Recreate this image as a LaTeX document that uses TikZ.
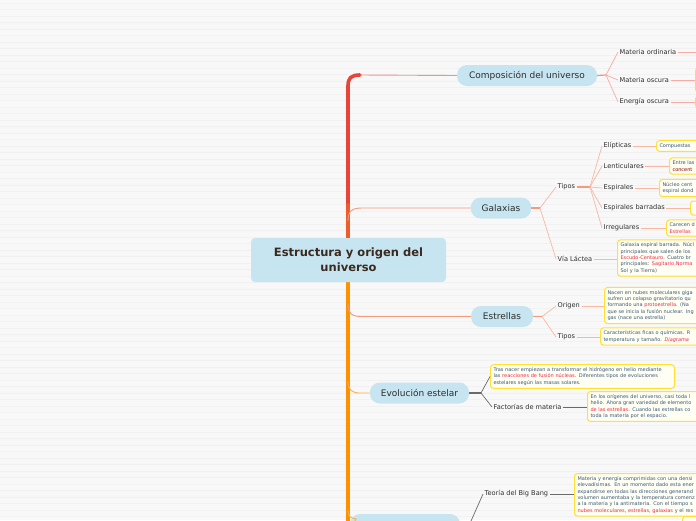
\documentclass[tikz,border=0pt]{standalone}
\usepackage{fontspec}
\setmainfont{DejaVu Sans}
\usepackage{xcolor}
\usepackage{tikz}

\definecolor{bgcol}{HTML}{F8F8F8}
\definecolor{stripecol}{HTML}{F1F1F1}
\definecolor{topicfill}{HTML}{C6E5F0}
\definecolor{roottext}{HTML}{3B2A20}
\definecolor{nodetext}{HTML}{2E2E2E}
\definecolor{leafedge}{HTML}{FFE033}
\definecolor{leaffill}{HTML}{FFFEF3}
\definecolor{leaftext}{HTML}{3A5A80}
\definecolor{leafred}{HTML}{EC2A4E}
\definecolor{trunkred}{HTML}{E8443A}
\definecolor{trunkmid}{HTML}{EF5B2B}
\definecolor{trunkorange}{HTML}{FF9100}
\definecolor{compline}{HTML}{F4928A}
\definecolor{compsub}{HTML}{F6ABA4}
\definecolor{galline}{HTML}{F49A7D}
\definecolor{galsub}{HTML}{F7B8A2}
\definecolor{evoline}{HTML}{6A6A6A}
\definecolor{evoorange}{HTML}{FFB04C}

\begin{document}
\begin{tikzpicture}[x=1pt,y=-1pt,
  root/.style={rectangle,rounded corners=4pt,fill=topicfill,text=roottext,align=center,minimum width=195pt,minimum height=44pt,font=\fontsize{11.5}{15}\selectfont\bfseries},
  topic/.style={rectangle,rounded corners=10pt,fill=topicfill,text=nodetext,minimum height=21pt,inner xsep=11pt,font=\fontsize{9}{10}\selectfont},
  sub/.style={anchor=west,inner sep=1.5pt,text=nodetext,font=\fontsize{6.6}{7.5}\selectfont},
  leaf/.style={anchor=west,rectangle,rounded corners=3pt,draw=leafedge,line width=1pt,fill=leaffill,text=leaftext,align=left,inner xsep=3pt,inner ysep=3pt,font=\fontsize{5}{6.3}\selectfont},
  trunk/.style={line width=3.6pt,line cap=round},
  branch/.style={line width=0.9pt}]
  \clip (0,0) rectangle (696,520);
  \fill[bgcol] (0,0) rectangle (696,520);
  \foreach \y in {3,9.5,...,520} \draw[stripecol,line width=0.5pt] (0,\y) -- (696,\y);

  % main trunk
  \coordinate (t0) at (348,86);
  \coordinate (t1) at (348,221);
  \coordinate (t2) at (348,304);
  \coordinate (t3) at (348,381);
  \coordinate (t4) at (348,510);
  \draw[trunk,trunkred] (348,205) -- (t0) .. controls (348,78) and (351,75) .. (360,75);
  \draw[trunk,trunkmid] (348,238) -- (348,205);
  \draw[trunk,trunkorange] (348,282) -- (348,530);

  \node[root] (r0) at (348.5,260) {Estructura y origen del\\universo};

  % main topics
  \node[topic,minimum width=140pt] (comp) at (527,75.5) {Composición del universo};
  \node[topic,minimum width=60pt] (gal) at (501,208) {Galaxias};
  \node[topic,minimum width=62pt] (estr) at (502,316.5) {Estrellas};
  \node[topic,minimum width=99pt] (evo) at (419.5,393) {Evolución estelar};
  \node[topic,minimum width=110pt,minimum height=32pt] (bang) at (405,530) {};

  \draw[branch,compline] (360,75) -- (comp.west);
  \draw[branch,galline] (t1) .. controls (348,211) and (352,208) .. (362,208) -- (gal.west);
  \draw[branch,galline] (t2) .. controls (348,314) and (352,316.5) .. (362,316.5) -- (estr.west);
  \draw[branch,evoorange] (t3) .. controls (348,390) and (352,393) .. (360,393) -- (evo.west);
  \draw[branch,evoorange] (t4) .. controls (348,516) and (350,518) .. (356,519) -- (bang.west);

  % composicion del universo
  \coordinate (cf) at (606,75);
  \node[sub] (c1) at (618,52) {Materia ordinaria};
  \node[sub] (c2) at (618,80) {Materia oscura};
  \node[sub] (c3) at (618,102) {Energía oscura};
  \coordinate (c1x) at (700,52);
  \node[leaf,minimum width=40pt,minimum height=24pt] (c2b) at (695,80) {};
  \node[leaf,minimum width=40pt,minimum height=12pt] (c3b) at (695,102) {};
  \draw[line width=1.2pt,compline] (comp.east) -- (cf);
  \foreach \n in {c1,c2,c3} \draw[line width=0.7pt,compsub] (cf) -- (\n.west);
  \draw[line width=0.7pt,compsub] (c1.east) -- (c1x);
  \draw[line width=0.7pt,compsub] (c2.east) -- (c2.east -| c2b.west);
  \draw[line width=0.7pt,compsub] (c3.east) -- (c3.east -| c3b.west);

  % galaxias
  \coordinate (gf) at (540,208);
  \coordinate (tf) at (590,187);
  \node[sub] (g1) at (556,187) {Tipos};
  \node[sub] (g2) at (556,259) {Vía Láctea};
  \node[sub] (g11) at (602,146) {Elípticas};
  \node[sub] (g12) at (602,166) {Lenticulares};
  \node[sub] (g13) at (602,188) {Espirales};
  \node[sub] (g14) at (602,208) {Espirales barradas};
  \node[sub] (g15) at (602,228) {Irregulares};
  \node[leaf,text width=80pt] (g11b) at (656,146) {Compuestas};
  \node[leaf,text width=80pt] (g12b) at (669,166) {Entre las\\\textcolor{red!55!black}{concent}};
  \node[leaf,text width=80pt] (g13b) at (659,188) {Núcleo cent\\espiral dond};
  \node[leaf,text width=80pt,minimum height=14pt] (g14b) at (690,208) {};
  \node[leaf,text width=80pt] (g15b) at (666,228) {Carecen d\\\textcolor{leafred}{Estrellas}};
  \node[leaf,text width=100pt] (g2b) at (617,258) {Galaxia espiral barrada. Núcl\\principales que salen de los\\\textcolor{leafred}{Escudo-Centauro}. Cuatro br\\principales: \textcolor{leafred}{Sagitario,Norma}\\Sol y la Tierra)};
  \draw[line width=1.2pt,galline] (gal.east) -- (gf);
  \foreach \n in {g1,g2} \draw[line width=0.7pt,galsub] (gf) -- (\n.west);
  \draw[line width=1.2pt,galline] (g1.east) -- (tf);
  \foreach \n in {g11,g12,g13,g14,g15} \draw[line width=0.7pt,galsub] (tf) -- (\n.west);
  \foreach \n in {g11,g12,g13,g14,g15,g2} \draw[line width=0.7pt,galsub] (\n.east) -- (\n.east -| \n b.west);

  % estrellas
  \coordinate (ef) at (542,316.5);
  \node[sub] (e1) at (556,306) {Origen};
  \node[sub] (e2) at (556,337) {Tipos};
  \node[leaf,text width=100pt] (e1b) at (604,305.5) {Nacen en nubes moleculares giga\\sufren un colapso gravitatorio qu\\formando una \textcolor{leafred}{protoestrella}. (Na\\que se inicia la fusión nuclear. Ing\\gas (nace una estrella)};
  \node[leaf,text width=100pt] (e2b) at (600,336.5) {Características ficas o químicas. R\\temperatura y tamaño. \textcolor{leafred}{\itshape Diagrama}};
  \draw[line width=1.2pt,galline] (estr.east) -- (ef);
  \foreach \n in {e1,e2} \draw[line width=0.7pt,galsub] (ef) -- (\n.west);
  \foreach \n in {e1,e2} \draw[line width=0.7pt,galsub] (\n.east) -- (\n.east -| \n b.west);

  % evolucion estelar
  \coordinate (vf) at (481,393);
  \node[leaf,text width=178pt] (v1) at (490,376.5) {Tras nacer empiezan a transformar el hidrógeno en helio mediante\\las \textcolor{leafred}{reacciones de fusión núcleas}. Diferentes tipos de evoluciones\\estelares según las masas solares.};
  \node[sub] (v2) at (492,407) {Factorías de materia};
  \node[leaf,text width=120pt] (v2b) at (587,406.5) {En los orígenes del universo, casi toda l\\helio. Ahora gran variedad de elemento\\\textcolor{leafred}{de las estrellas}. Cuando las estrellas co\\toda la materia por el espacio.};
  \draw[line width=1.2pt,evoline] (evo.east) -- (vf);
  \foreach \n in {v1,v2} \draw[line width=0.7pt,evoline] (vf) -- (\n.west);
  \draw[line width=0.7pt,evoline] (v2.east) -- (v2.east -| v2b.west);

  % big bang
  \coordinate (bf) at (467,530);
  \node[sub] (b1) at (483,494) {Teoría del Big Bang};
  \node[leaf,text width=140pt,anchor=north west] (b1b) at (574,473) {Materia y energía comprimidas con una densi\\elevadísimas. En un momento dado esta ener\\expandirse en todas las direcciones generand\\volumen aumentaba y la temperatura comenz\\a la materia y la antimateria. Con el tiempo s\\\textcolor{leafred}{nubes moleculares}, \textcolor{leafred}{estrellas}, \textcolor{leafred}{galaxias} y el res};
  \node[leaf,anchor=north west,minimum width=30pt,minimum height=20pt] (b2b) at (682,516) {};
  \draw[line width=1.2pt,evoline] (bang.east) -- (bf);
  \draw[line width=0.7pt,evoline] (bf) -- (b1.west);
  \draw[line width=0.7pt,evoline] (b1.east) -- (b1.east -| b1b.west);
\end{tikzpicture}
\end{document}
